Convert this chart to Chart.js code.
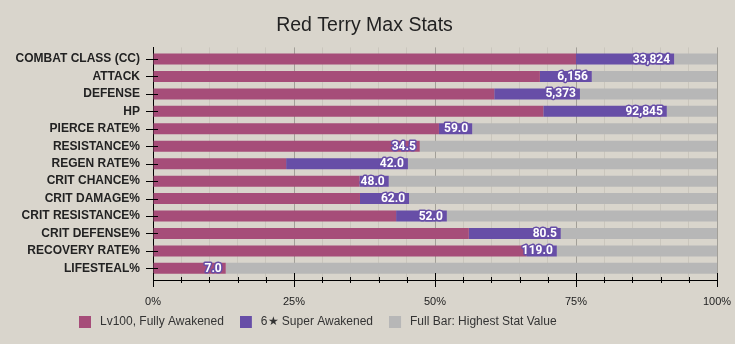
<!DOCTYPE html>
<html><head><meta charset="utf-8">
<script src="https://cdn.jsdelivr.net/npm/chart.js@4"></script>
<style>html,body{margin:0;padding:0;background:#d9d5cc;overflow:hidden}canvas{display:block}</style>
</head><body>
<canvas id="c" width="735" height="344"></canvas>
<script>
// ---- data (percent of the highest stat value) ----
const categories = ["COMBAT CLASS (CC)","ATTACK","DEFENSE","HP","PIERCE RATE%","RESISTANCE%","REGEN RATE%","CRIT CHANCE%","CRIT DAMAGE%","CRIT RESISTANCE%","CRIT DEFENSE%","RECOVERY RATE%","LIFESTEAL%"];
const lv100Pct = [75.0, 68.6, 60.5, 69.2, 50.7, 47.3, 23.6, 36.6, 36.7, 43.1, 56.0, 66.2, 12.9];
const superPct = [17.4, 9.2, 15.2, 21.9, 5.9, 0, 21.6, 5.2, 8.7, 9.0, 16.3, 5.4, 0];
const fullPct  = [7.6, 22.2, 24.3, 8.9, 43.4, 52.7, 54.8, 58.2, 54.6, 47.9, 27.7, 28.4, 87.1];
const valueLabels = ["33,824","6,156","5,373","92,845","59.0","34.5","42.0","48.0","62.0","52.0","80.5","119.0","7.0"];
const seriesNames = ["Lv100, Fully Awakened","6\u2605 Super Awakened","Full Bar: Highest Stat Value"];
const xTickLabelsEvery = 25; // labelled ticks
const titleText = "Red Terry Max Stats";

const colors = ["#a64d79", "#674ea7", "#b7b7b7"];
const FONT = "'Liberation Sans', Arial, sans-serif";

function swatch(color){
  const c = document.createElement('canvas');
  c.width = 15; c.height = 12;
  const g = c.getContext('2d');
  g.fillStyle = color; g.fillRect(0,0,12,12);
  return c;
}
const swatches = colors.map(swatch);

const toPts = arr => arr.map((v,i)=>({x:v, y:i}));

const axisMarks = {
  id:'axisMarks',
  afterDraw(chart){
    const ctx = chart.ctx, xs = chart.scales.x, ys = chart.scales.y;
    const bottom = Math.round(chart.chartArea.bottom), left = Math.round(chart.chartArea.left);
    ctx.save();
    ctx.strokeStyle = '#000'; ctx.lineWidth = 1;
    ctx.beginPath();
    xs.ticks.forEach(t=>{
      const px = Math.round(xs.getPixelForValue(t.value)) + 0.5;
      const major = t.value % xTickLabelsEvery === 0;
      const len = major ? 7 : 3;
      ctx.moveTo(px, bottom - len); ctx.lineTo(px, bottom + len);
    });
    ys.ticks.forEach(t=>{
      const py = Math.round(ys.getPixelForValue(t.value)) + 0.5;
      ctx.moveTo(left - 7, py); ctx.lineTo(left + 5, py);
    });
    ctx.stroke();
    ctx.restore();
  }
};

const barLabels = {
  id:'barLabels',
  afterDatasetsDraw(chart){
    const ctx = chart.ctx;
    const meta = chart.getDatasetMeta(1);
    ctx.save();
    ctx.font = "bold 12px Roboto, 'Liberation Sans', sans-serif";
    ctx.textAlign = 'right';
    ctx.textBaseline = 'middle';
    ctx.lineJoin = 'round';
    meta.data.forEach((el,i)=>{
      const x = el.x - 4, y = el.y + 0.5;
      ctx.strokeStyle = colors[1]; ctx.lineWidth = 3;
      ctx.strokeText(valueLabels[i], x, y);
      ctx.fillStyle = '#fff';
      ctx.fillText(valueLabels[i], x, y);
    });
    ctx.restore();
  }
};

const boxShift = {
  id:'boxShift',
  afterLayout(chart){
    const l = chart.legend;
    const w = l.right - l.left, h = l.bottom - l.top;
    l.left = 63; l.right = 63 + w;
    l.top = 300; l.bottom = 300 + h;
    const t = chart.titleBlock;
    t.left += 6; t.right += 6;
  }
};

new Chart(document.getElementById('c'), {
  type:'bar',
  data:{
    datasets: [lv100Pct, superPct, fullPct].map((d,i)=>({
      label: seriesNames[i],
      data: toPts(d),
      backgroundColor: colors[i],
      borderWidth: 0,
      barPercentage: 0.63,
      categoryPercentage: 1.0
    }))
  },
  options:{
    indexAxis:'y',
    responsive:false,
    animation:false,
    layout:{padding:{left:0, right:18, top:0, bottom:-4}},
    scales:{
      x:{
        type:'linear', stacked:true, min:0, max:100,
        afterFit(s){ s.height = 30; },
        grid:{
          drawTicks:true, tickLength:13, tickColor:'transparent',
          color: c => (c.tick && c.tick.value % xTickLabelsEvery === 0) ? '#a29f98' : '#cac6bd',
          lineWidth:1
        },
        border:{color:'#000', width:1},
        ticks:{
          stepSize:5, autoSkip:false, maxRotation:0, padding:2,
          color:'#222', font:{family:FONT, size:11},
          callback: v => (v % xTickLabelsEvery === 0) ? v + '%' : ''
        }
      },
      y:{
        type:'linear', stacked:true, reverse:true, offset:false, min:-0.667, max:12.667,
        afterBuildTicks(s){ s.ticks = categories.map((c,i)=>({value:i})); },
        afterFit(s){ s.width = 153; },
        grid:{drawOnChartArea:false, drawTicks:true, tickLength:11, tickColor:'transparent', offset:false},
        border:{color:'#000', width:1},
        ticks:{
          autoSkip:false, padding:2,
          color:'#222', font:{family:FONT, size:12, weight:'bold'},
          callback: v => categories[v]
        }
      }
    },
    plugins:{
      title:{
        display:true, text:titleText, color:'#222',
        font:{family:FONT, size:19.5, weight:'normal'},
        padding:{top:14, bottom:10}
      },
      legend:{
        position:'bottom', align:'start',
        labels:{
          usePointStyle:true, pointStyleWidth:15, padding:16,
          color:'#333', font:{family:FONT, size:12},
          generateLabels(chart){
            const items = Chart.defaults.plugins.legend.labels.generateLabels(chart);
            items.forEach((it,i)=>{ it.pointStyle = swatches[i]; it.lineWidth = 0; });
            return items;
          }
        }
      },
      tooltip:{enabled:false}
    }
  },
  plugins:[axisMarks, barLabels, boxShift]
});
</script>
</body></html>
